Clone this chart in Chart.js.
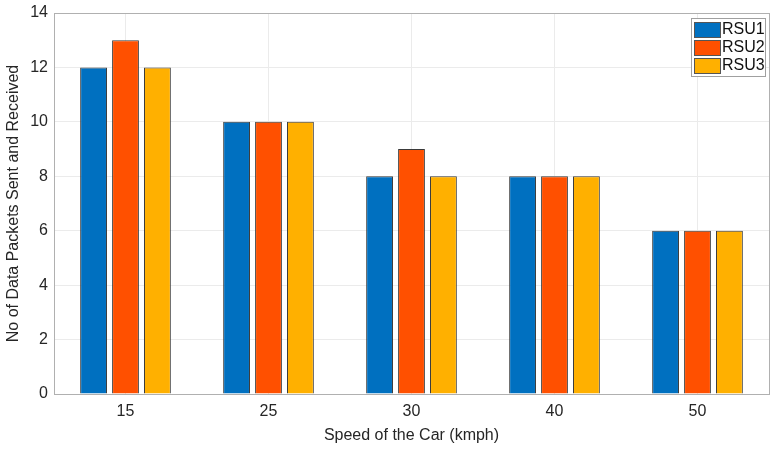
<!DOCTYPE html>
<html>
<head>
<meta charset="utf-8">
<script src="https://cdn.jsdelivr.net/npm/chart.js@4/dist/chart.umd.min.js"></script>
<style>
  html, body { margin: 0; padding: 0; background: #fff; }
  #wrap { width: 777px; height: 449px; }
</style>
</head>
<body>
<div id="wrap"><canvas id="c" width="777" height="449"></canvas></div>
<script>
// ===== Data =====
const speeds = ["15", "25", "30", "40", "50"];
const rsu1 = [12, 10, 8, 8, 6];
const rsu2 = [13, 10, 9, 8, 6];
const rsu3 = [12, 10, 8, 8, 6];
const yTicks = [0, 2, 4, 6, 8, 10, 12, 14];

const FONT = "'Liberation Sans', Arial, sans-serif";

// box round the plot area + legend inside top right
const boxPlugin = {
  id: "box",
  afterDraw(chart) {
    const { ctx, chartArea: a } = chart;
    ctx.save();
    ctx.strokeStyle = "#b0b0b0";
    ctx.lineWidth = 1;
    ctx.strokeRect(a.left + 0.5, a.top + 0.5, a.right - a.left, a.bottom - a.top);

    // legend
    const x = a.right - 78, y = a.top + 5, w = 74, h = 58;
    ctx.fillStyle = "#fff";
    ctx.fillRect(x, y, w, h);
    ctx.strokeStyle = "#a0a0a0";
    ctx.strokeRect(x + 0.5, y + 0.5, w, h);
    ctx.font = "16px " + FONT;
    ctx.textBaseline = "middle";
    chart.data.datasets.forEach((ds, i) => {
      const ry = y + 4 + i * 18;
      ctx.fillStyle = ds.backgroundColor;
      ctx.fillRect(x + 3, ry, 26, 15);
      ctx.strokeStyle = "#555";
      ctx.strokeRect(x + 3.5, ry + 0.5, 26, 15);
      ctx.fillStyle = "#111";
      ctx.fillText(ds.label, x + 31, ry + 8);
    });
    ctx.restore();
  }
};

new Chart(document.getElementById("c"), {
  type: "bar",
  data: {
    labels: speeds,
    datasets: [
      { label: "RSU1", data: rsu1, backgroundColor: "#0070C0" },
      { label: "RSU2", data: rsu2, backgroundColor: "#FF5000" },
      { label: "RSU3", data: rsu3, backgroundColor: "#FFB000" },
    ].map(d => Object.assign(d, {
      borderColor: "#3a3a3a",
      borderWidth: 1,
      categoryPercentage: 0.67,
      barPercentage: 0.84,
    })),
  },
  options: {
    responsive: false,
    animation: false,
    layout: { padding: { top: 13, right: 8, left: 0, bottom: 0 } },
    plugins: {
      legend: { display: false },
      tooltip: { enabled: false },
    },
    scales: {
      x: {
        grid: { offset: false, color: "#ebebeb", drawTicks: false },
        border: { display: false },
        ticks: { color: "#262626", font: { family: FONT, size: 16 }, padding: 8 },
        title: {
          display: true,
          text: "Speed of the Car (kmph)",
          color: "#262626",
          font: { family: FONT, size: 16 },
          padding: { top: 2 },
        },
        afterFit(s) { s.height = 55; },
      },
      y: {
        min: 0,
        max: 14,
        afterBuildTicks(s) { s.ticks = yTicks.map(v => ({ value: v })); },
        grid: { color: "#ebebeb", drawTicks: false },
        border: { display: false },
        ticks: { color: "#262626", font: { family: FONT, size: 16 }, padding: 6 },
        title: {
          display: true,
          text: "No of Data Packets Sent and Received",
          color: "#262626",
          font: { family: FONT, size: 16 },
          padding: { bottom: 3 },
        },
        afterFit(s) { s.width = 54; s.paddingTop = 0; s.paddingBottom = 0; },
      },
    },
  },
  plugins: [boxPlugin],
});
</script>
</body>
</html>
